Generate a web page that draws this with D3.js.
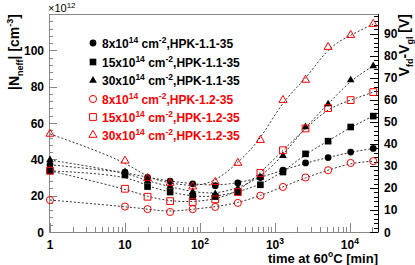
<!DOCTYPE html>
<html>
<head>
<script src="https://cdnjs.cloudflare.com/ajax/libs/d3/7.8.5/d3.min.js"></script>
<style type='text/css'>
  body { margin: 0; background: #fff; }
  svg text { font-family: "Liberation Sans", Arial, sans-serif; font-weight: bold; }
</style>
</head>
<body>
<div id='chart'></div>
<script type='text/javascript'>
// annealing times [min]
var times = [1, 10, 20, 40, 80, 160, 320, 640, 1280, 2560, 5120, 10240, 20480];

// |Neff| in units of 1e12 cm^-3
var neff8_11  = [37, 33, 30, 28, 26.5, 25.5, 27, 30, 34, 38, 41, 44, 46];
var neff15_11 = [33.7, 31.4, 25, 22, 19.5, 19.5, 22, 26, 33, 43, 50, 57.8, 63.8];
var neff30_11 = [39.6, 33, 28, 25, 22, 21, 24, 30, 42, 57.8, 70.4, 83.6, 91.4];
var neff8_12  = [17.6, 14, 12.6, 11, 12.6, 13.8, 16, 20, 24.8, 30, 34, 38, 39];
var neff15_12 = [33.7, 23.8, 19.4, 17, 16.5, 18, 22, 32.5, 45, 57, 68.2, 72.6, 77];
var neff30_12 = [54, 39.2, 29.6, 27, 25, 27.5, 38, 50.6, 72.6, 83.7, 101.8, 108.4, 114.5];

var fluences = ['8', '15', '30'];
var sensors = ['HPK-1.1-35', 'HPK-1.2-35'];

var xTicks = [1, 10, 100, 1000, 10000];
var yLeftTicks = [0, 20, 40, 60, 80, 100];
var yRightTicks = [0, 10, 20, 30, 40, 50, 60, 70, 80, 90];

var series = [
  {vals: neff8_11,  sym: d3.symbolCircle,   size: 36, fill: '#000', stroke: 'none', color: '#000', flu: 0, sen: 0},
  {vals: neff15_11, sym: d3.symbolSquare,   size: 44, fill: '#000', stroke: 'none', color: '#000', flu: 1, sen: 0},
  {vals: neff30_11, sym: d3.symbolTriangle, size: 26, fill: '#000', stroke: 'none', color: '#000', flu: 2, sen: 0},
  {vals: neff8_12,  sym: d3.symbolCircle,   size: 40, fill: 'none', stroke: '#f00', color: '#f00', flu: 0, sen: 1},
  {vals: neff15_12, sym: d3.symbolSquare,   size: 46, fill: 'none', stroke: '#f00', color: '#f00', flu: 1, sen: 1},
  {vals: neff30_12, sym: d3.symbolTriangle, size: 28, fill: 'none', stroke: '#f00', color: '#f00', flu: 2, sen: 1}
];

var W = 415, H = 265;
var L = 49, R = 378, T = 14, B = 232;

var x = d3.scaleLog().domain([0.97, 23700]).range([L, R]);
var y = d3.scaleLinear().domain([0, 120]).range([B, T]);
var y2 = d3.scaleLinear().domain([0, 99]).range([B, T]);

var svg = d3.select('#chart').append('svg')
  .attr('width', W).attr('height', H);

// frame
svg.append('rect')
  .attr('x', L).attr('y', T).attr('width', R - L).attr('height', B - T)
  .attr('fill', 'none').attr('stroke', '#888').attr('stroke-width', 1)
  .attr('shape-rendering', 'crispEdges');

// x ticks (log)
var xt = [];
for (var e = 0; e <= 4; e++)
  for (var m = 1; m <= 9; m++) {
    var v = m * Math.pow(10, e);
    if (v >= 1 && v <= 23000) xt.push({v: v, major: m == 1});
  }
svg.append('g').selectAll('line').data(xt).enter().append('line')
  .attr('x1', function(d) { return Math.round(x(d.v)) + 0.5; })
  .attr('x2', function(d) { return Math.round(x(d.v)) + 0.5; })
  .attr('y1', B).attr('y2', function(d) { return B - (d.major ? 9 : 5); })
  .attr('stroke', '#888');

var xl = svg.append('g').selectAll('text').data(xTicks).enter().append('text')
  .attr('x', function(d) { return x(d); })
  .attr('y', 249)
  .attr('text-anchor', 'middle')
  .attr('font-size', 12);
xl.each(function(d) {
  var t = d3.select(this);
  if (d < 100) { t.text(d); return; }
  t.append('tspan').text('10');
  t.append('tspan').attr('dy', -5).attr('font-size', 8.5).text(Math.round(Math.log10(d)));
});

// left y ticks
var ylt = d3.range(0, 121, 4);
svg.append('g').selectAll('line').data(ylt).enter().append('line')
  .attr('x1', L).attr('x2', function(d) { return L + (d % 20 == 0 ? 8 : 4); })
  .attr('y1', function(d) { return Math.round(y(d)) + 0.5; })
  .attr('y2', function(d) { return Math.round(y(d)) + 0.5; })
  .attr('stroke', '#888');
svg.append('g').selectAll('text').data(yLeftTicks).enter().append('text')
  .attr('x', 44).attr('y', function(d) { return y(d) + 4.5; })
  .attr('text-anchor', 'end').attr('font-size', 12)
  .text(function(d) { return d; });

var ex = svg.append('text').attr('x', 48).attr('y', 12).attr('font-size', 11)
  .style('font-weight', 'normal');
ex.append('tspan').text('\u00d710');
ex.append('tspan').attr('dy', -4).attr('font-size', 8).text('12');

// right axis
svg.append('line').attr('x1', R + 0.5).attr('x2', R + 0.5).attr('y1', T).attr('y2', B)
  .attr('stroke', '#000');
var yrt = d3.range(0, 99, 2);
svg.append('g').selectAll('line').data(yrt).enter().append('line')
  .attr('x1', R).attr('x2', function(d) { return R - (d % 10 == 0 ? 8 : 4); })
  .attr('y1', function(d) { return Math.round(y2(d)) + 0.5; })
  .attr('y2', function(d) { return Math.round(y2(d)) + 0.5; })
  .attr('stroke', '#000');
svg.append('g').selectAll('text').data(yRightTicks).enter().append('text')
  .attr('x', 384).attr('y', function(d) { return y2(d) + 4.5; })
  .attr('font-size', 12)
  .text(function(d) { return d; });

// axis titles
var xtitle = svg.append('text').attr('x', R).attr('y', 263)
  .attr('text-anchor', 'end').attr('font-size', 13);
xtitle.append('tspan').text('time at 60');
xtitle.append('tspan').attr('dy', -6).attr('font-size', 8.5).text('o');
xtitle.append('tspan').attr('dy', 6).text('C [min]');

var ytitle = svg.append('text').attr('transform', 'translate(19,' + T + ') rotate(-90)')
  .attr('text-anchor', 'end').attr('font-size', 14);
ytitle.append('tspan').text('|N');
ytitle.append('tspan').attr('dy', 4).attr('font-size', 9).text('neff');
ytitle.append('tspan').attr('dy', -4).text('| [cm');
ytitle.append('tspan').attr('dy', -6).attr('font-size', 9).text('-3');
ytitle.append('tspan').attr('dy', 6).text(']');

var y2title = svg.append('text').attr('transform', 'translate(409,' + T + ') rotate(-90)')
  .attr('text-anchor', 'end').attr('font-size', 14);
y2title.append('tspan').text('V');
y2title.append('tspan').attr('dy', 4).attr('font-size', 9).text('fd');
y2title.append('tspan').attr('dy', -4).text('-V');
y2title.append('tspan').attr('dy', 4).attr('font-size', 9).text('gl');
y2title.append('tspan').attr('dy', -4).text(' [V]');

// fit curves
var line = d3.line()
  .x(function(d) { return x(d[0]); })
  .y(function(d) { return y(d[1]); })
  .curve(d3.curveBasis);
var plot = svg.append('g');
series.forEach(function(s) {
  var pts = times.map(function(t, i) { return [t, s.vals[i]]; });
  plot.append('path').attr('d', line(pts))
    .attr('fill', 'none').attr('stroke', '#333').attr('stroke-width', 1)
    .attr('stroke-dasharray', '2,2');
});

// markers
series.forEach(function(s) {
  var sym = d3.symbol().type(s.sym).size(s.size);
  plot.append('g').selectAll('path').data(times).enter().append('path')
    .attr('transform', function(t, i) { return 'translate(' + x(t) + ',' + y(s.vals[i]) + ')'; })
    .attr('d', sym)
    .attr('fill', s.fill).attr('stroke', s.stroke).attr('stroke-width', 1);
});

// legend
var legY = [43, 62, 80.5, 99, 117, 135];
var leg = svg.append('g');
series.forEach(function(s, i) {
  var sym = d3.symbol().type(s.sym).size(s.size);
  leg.append('path').attr('transform', 'translate(93,' + legY[i] + ')')
    .attr('d', sym).attr('fill', s.fill).attr('stroke', s.stroke);
  var t = leg.append('text').attr('x', 102).attr('y', legY[i] + 4.5)
    .attr('font-size', 12).attr('fill', s.color);
  t.append('tspan').text(fluences[s.flu] + 'x10');
  t.append('tspan').attr('dy', -5).attr('font-size', 8.5).text('14');
  t.append('tspan').attr('dy', 5).text(' cm');
  t.append('tspan').attr('dy', -5).attr('font-size', 8.5).text('-2');
  t.append('tspan').attr('dy', 5).text(',' + sensors[s.sen]);
});
</script>
</body>
</html>
